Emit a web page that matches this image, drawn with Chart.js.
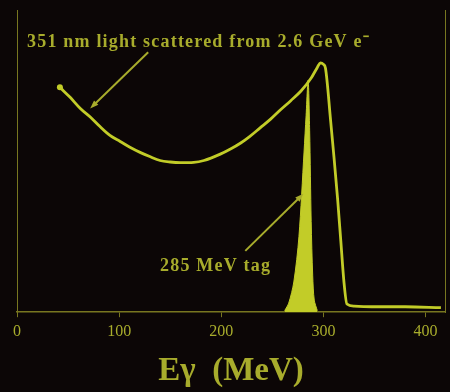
<!DOCTYPE html>
<html>
<head>
<meta charset="utf-8">
<script src="https://cdn.jsdelivr.net/npm/chart.js@4.4.1/dist/chart.umd.min.js"></script>
<style>
  html, body { margin: 0; padding: 0; background: #0c0606; }
  #wrap { width: 450px; height: 392px; position: relative; }
</style>
</head>
<body>
<div id="wrap"><canvas id="spectrum"></canvas></div>
<script>
  // Compton spectrum: photon energy (MeV) vs. rate (arbitrary units)
  var comptonEnergy = [42, 52, 62, 72, 81, 91, 101, 111, 121, 130, 140, 150, 160, 173, 183,
    199, 209, 219, 228, 238, 248, 258, 268, 278, 288, 294, 297, 300, 302, 307, 310, 314,
    317, 320, 323, 330, 350, 380, 415];
  var comptonRate = [74.4, 71.1, 67.4, 64.5, 61.5, 58.5, 56.5, 54.5, 52.8, 51.5, 50.2, 49.7,
    49.5, 49.6, 50.2, 52.3, 54.0, 56.0, 58.2, 61.0, 63.8, 67.0, 70.0, 73.2, 77.5, 81.0, 82.5,
    82.0, 80.7, 63.5, 52.5, 36.9, 23.6, 10.3, 2.7, 2.0, 1.8, 1.8, 1.5];

  // tagged photons around 285 MeV
  var tagEnergy = [262, 266, 271, 276, 281, 283, 285, 286.5, 288, 289.5, 291, 294];
  var tagRate = [0.5, 3, 10, 25, 53, 65, 76.7, 60, 30, 12, 4, 0.5];

  var xTicks = [0, 100, 200, 300, 400];

  // annotation labels and arrows, in data units
  var noteTop = { text: '351 nm light scattered from 2.6 GeV e\u207B', x: 9.8, y: 89.4 };
  var noteTag = { text: '285 MeV tag', x: 140, y: 15.3 };
  var arrowTop = { from: [128.4, 86], to: [71.6, 67.4] };
  var arrowTag = { from: [223.5, 20.3], to: [280.4, 39.2] };

  var lineColor = 'rgb(194, 204, 40)';
  var textColor = 'rgb(168, 172, 44)';
  var axisColor = 'rgb(120, 118, 32)';

  function toPoints(xs, ys) {
    return xs.map(function (x, i) { return { x: x, y: ys[i] }; });
  }

  function drawArrow(ctx, x0, y0, x1, y1) {
    var ang = Math.atan2(y1 - y0, x1 - x0);
    var len = 9, half = 0.35;
    ctx.beginPath();
    ctx.moveTo(x0, y0);
    ctx.lineTo(x1 - Math.cos(ang) * 4, y1 - Math.sin(ang) * 4);
    ctx.stroke();
    ctx.beginPath();
    ctx.moveTo(x1, y1);
    ctx.lineTo(x1 - len * Math.cos(ang - half), y1 - len * Math.sin(ang - half));
    ctx.lineTo(x1 - len * Math.cos(ang + half), y1 - len * Math.sin(ang + half));
    ctx.closePath();
    ctx.fill();
  }

  var notesPlugin = {
    id: 'notes',
    afterDatasetsDraw: function (chart) {
      var ctx = chart.ctx;
      var xs = chart.scales.x, ys = chart.scales.y;
      ctx.save();
      ctx.fillStyle = textColor;
      ctx.strokeStyle = textColor;
      ctx.lineWidth = 2;
      ctx.font = 'bold 18px "Liberation Serif"';
      ctx.letterSpacing = '1.2px';
      ctx.textBaseline = 'middle';
      ctx.textAlign = 'left';
      [noteTop, noteTag].forEach(function (n) {
        ctx.fillText(n.text, xs.getPixelForValue(n.x), ys.getPixelForValue(n.y));
      });
      ctx.letterSpacing = '0px';
      [arrowTop, arrowTag].forEach(function (a) {
        drawArrow(ctx,
          xs.getPixelForValue(a.from[0]), ys.getPixelForValue(a.from[1]),
          xs.getPixelForValue(a.to[0]), ys.getPixelForValue(a.to[1]));
      });
      ctx.restore();
    }
  };

  new Chart(document.getElementById('spectrum'), {
    type: 'line',
    data: {
      datasets: [{
        data: toPoints(tagEnergy, tagRate),
        borderColor: lineColor,
        backgroundColor: lineColor,
        borderWidth: 1,
        fill: 'origin',
        pointRadius: 0,
        tension: 0.3
      }, {
        data: toPoints(comptonEnergy, comptonRate),
        borderColor: lineColor,
        borderWidth: 2.8,
        fill: false,
        cubicInterpolationMode: 'monotone',
        pointRadius: function (c) { return c.dataIndex === 0 ? 3 : 0; },
        pointBackgroundColor: lineColor,
        pointBorderWidth: 0
      }]
    },
    options: {
      responsive: true,
      maintainAspectRatio: false,
      animation: false,
      layout: { padding: { left: 17, right: 5, top: 10, bottom: 1 } },
      plugins: {
        legend: { display: false },
        tooltip: { enabled: false }
      },
      scales: {
        x: {
          type: 'linear',
          min: 0,
          max: 419,
          afterBuildTicks: function (axis) {
            axis.ticks = xTicks.map(function (v) { return { value: v }; });
          },
          ticks: {
            color: textColor,
            font: { family: 'Liberation Serif', size: 16 },
            padding: 5,
            maxRotation: 0
          },
          grid: { drawOnChartArea: false, drawTicks: true, tickLength: 5, color: axisColor },
          border: { display: true, color: axisColor, width: 1.5 },
          title: {
            display: true,
            text: 'E\u03B3  (MeV)',
            color: textColor,
            font: { family: 'Liberation Serif', size: 33, weight: 'bold' },
            padding: { top: 5, bottom: 0 }
          }
        },
        y: {
          min: 0,
          max: 100,
          ticks: { display: false },
          grid: { display: false, drawTicks: false },
          border: { display: true, color: axisColor, width: 1 }
        },
        y2: {
          position: 'right',
          min: 0,
          max: 100,
          ticks: { display: false },
          grid: { display: false, drawTicks: false },
          border: { display: true, color: axisColor, width: 1 }
        }
      }
    },
    plugins: [notesPlugin]
  });
</script>
</body>
</html>
